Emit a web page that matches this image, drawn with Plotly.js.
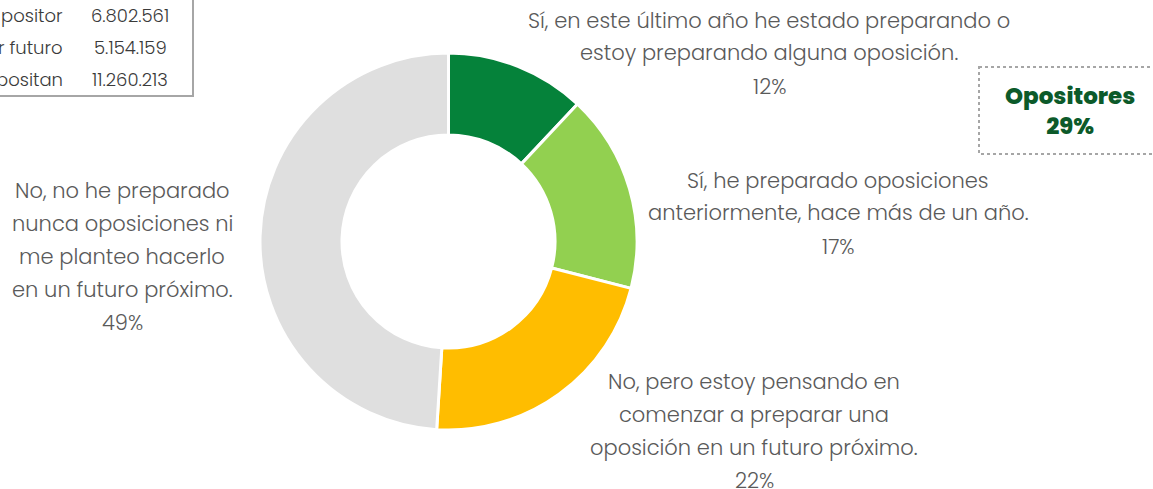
<!DOCTYPE html>
<html>
<head>
<meta charset="utf-8">
<script src="https://cdn.plot.ly/plotly-3.0.1.min.js"></script>
<style>
  html, body { margin: 0; padding: 0; background: #fff; }
  #chart { width: 1153px; height: 489px; }
</style>
</head>
<body>
<div id="chart"></div>
<script>
(function() {
  'use strict';

  // Encuesta: preparacion de oposiciones
  var answers = [
    ['Sí, en este último año he estado preparando o', 'estoy preparando alguna oposición.'],
    ['Sí, he preparado oposiciones', 'anteriormente, hace más de un año.'],
    ['No, pero estoy pensando en', 'comenzar a preparar una', 'oposición en un futuro próximo.'],
    ['No, no he preparado', 'nunca oposiciones ni', 'me planteo hacerlo', 'en un futuro próximo.']
  ];
  var shares = [12, 17, 22, 49];
  var sliceColors = ['#05823a', '#92d050', '#ffbd00', '#dfdfdf'];

  // tabla (recortada por la izquierda)
  var tableRows = ['positor', 'r futuro', 'positan'];
  var tableValues = ['6.802.561', '5.154.159', '11.260.213'];

  var W = 1153, H = 489;
  function px(x) { return x / W; }
  function py(y) { return 1 - y / H; }

  var font = 'Poppins, "Open Sans", sans-serif';
  var grey = '#5a5a5a';

  var pieData = [{
    type: 'pie',
    values: shares,
    labels: answers.map(function(a) { return a.join(' '); }),
    marker: { colors: sliceColors, line: { color: '#ffffff', width: 3 } },
    hole: 0.565,
    sort: false,
    direction: 'clockwise',
    rotation: 0,
    textinfo: 'none',
    hoverinfo: 'label+percent',
    showlegend: false,
    domain: { x: [px(260), px(637)], y: [py(430), py(53)] }
  }];

  // label positions (center x, first line y)
  var labelPos = [[769, 20], [838, 180], [754, 381], [122, 190]];
  var lineGap = 33;

  var annotations = [];
  answers.forEach(function(lines, i) {
    var all = lines.concat([shares[i] + '%']);
    all.forEach(function(t, j) {
      annotations.push({
        xref: 'paper', yref: 'paper',
        x: px(labelPos[i][0]), y: py(labelPos[i][1] + j * lineGap),
        xanchor: 'center', yanchor: 'middle',
        text: t, showarrow: false,
        font: { family: font, size: 21, weight: 300, color: grey }
      });
    });
  });

  // caja opositores
  var opositores = shares[0] + shares[1];
  annotations.push({
    xref: 'paper', yref: 'paper',
    x: px(1070), y: py(111),
    xanchor: 'center', yanchor: 'middle',
    text: 'Opositores<br>' + opositores + '%', showarrow: false,
    font: { family: font, size: 23, weight: 800, color: '#0c5a2a' }
  });

  // tabla
  tableRows.forEach(function(r, j) {
    annotations.push({
      xref: 'paper', yref: 'paper',
      x: px(65), y: py(16 + j * 32),
      xanchor: 'right', yanchor: 'middle',
      text: r, showarrow: false,
      font: { family: font, size: 18, weight: 300, color: '#3a3a3a' }
    });
    annotations.push({
      xref: 'paper', yref: 'paper',
      x: px(130), y: py(16 + j * 32),
      xanchor: 'center', yanchor: 'middle',
      text: tableValues[j], showarrow: false,
      font: { family: font, size: 18, weight: 300, color: '#3a3a3a' }
    });
  });

  var layout = {
    width: W, height: H,
    margin: { l: 0, r: 0, t: 0, b: 0 },
    paper_bgcolor: '#ffffff',
    showlegend: false,
    annotations: annotations,
    shapes: [
      { type: 'rect', xref: 'paper', yref: 'paper',
        x0: px(-5), x1: px(193), y0: py(-5), y1: py(96),
        line: { color: '#a6a6a6', width: 2 }, fillcolor: 'rgba(0,0,0,0)' },
      { type: 'rect', xref: 'paper', yref: 'paper',
        x0: px(979), x1: px(1160), y0: py(67), y1: py(154),
        line: { color: '#a6a6a6', width: 2, dash: 'dot' }, fillcolor: 'rgba(0,0,0,0)' }
    ]
  };

  Plotly.newPlot('chart', pieData, layout, { displayModeBar: false, staticPlot: true });
}());
</script>
</body>
</html>
